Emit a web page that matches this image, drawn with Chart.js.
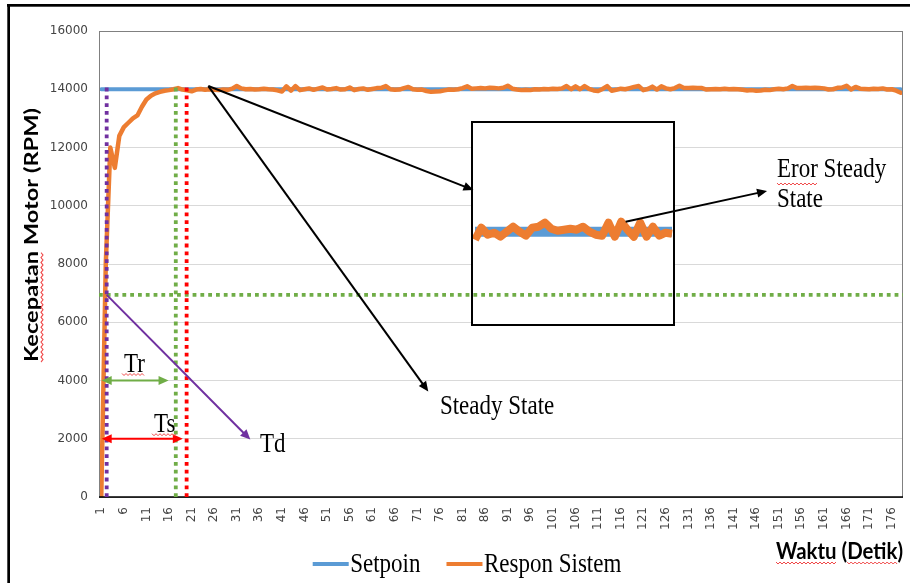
<!DOCTYPE html>
<html>
<head>
<meta charset="utf-8">
<script src="https://cdn.jsdelivr.net/npm/chart.js@4.4.1/dist/chart.umd.min.js"></script>
<style>
  html, body { margin: 0; padding: 0; background: #fff; }
  #wrap { position: relative; width: 910px; height: 583px; overflow: hidden; }
  #wrap > canvas { position: absolute; left: 0; top: 0; }
  #zoomBox { position: absolute; left: 471px; top: 121px; width: 200px; height: 201px; border: 2px solid #000; background: #fff; }
  #zoomBox canvas { position: absolute; left: 0; top: 0; }
  #overlay { pointer-events: none; }
</style>
</head>
<body>
<div id="wrap">
  <canvas id="motorChart" width="910" height="583"></canvas>
  <div id="zoomBox"><canvas id="zoomChart" width="200" height="201"></canvas></div>
  <canvas id="overlay" width="910" height="583"></canvas>
</div>
<script>
/* ===== DATA ===== */
const waktu = [
  1, 2, 3, 4, 5, 6, 7, 8, 9, 10, 11, 12, 13, 14, 15, 16, 17, 18, 19, 20,
  21, 22, 23, 24, 25, 26, 27, 28, 29, 30, 31, 32, 33, 34, 35, 36, 37, 38, 39, 40,
  41, 42, 43, 44, 45, 46, 47, 48, 49, 50, 51, 52, 53, 54, 55, 56, 57, 58, 59, 60,
  61, 62, 63, 64, 65, 66, 67, 68, 69, 70, 71, 72, 73, 74, 75, 76, 77, 78, 79, 80,
  81, 82, 83, 84, 85, 86, 87, 88, 89, 90, 91, 92, 93, 94, 95, 96, 97, 98, 99, 100,
  101, 102, 103, 104, 105, 106, 107, 108, 109, 110, 111, 112, 113, 114, 115, 116, 117, 118, 119, 120,
  121, 122, 123, 124, 125, 126, 127, 128, 129, 130, 131, 132, 133, 134, 135, 136, 137, 138, 139, 140,
  141, 142, 143, 144, 145, 146, 147, 148, 149, 150, 151, 152, 153, 154, 155, 156, 157, 158, 159, 160,
  161, 162, 163, 164, 165, 166, 167, 168, 169, 170, 171, 172, 173, 174, 175, 176, 177, 178
];

// setpoint: constant from the first to the last sample
const setpoinTitik = [[1, 14000], [178, 14000]];

const responSistem = [
  0, 8000, 12000, 11300, 12400, 12700, 12850, 13000, 13100, 13400,
  13650, 13780, 13860, 13910, 13950, 13970, 14000, 14040, 13990, 13960,
  13930, 13990, 14010, 13980, 14000, 13980, 13970, 13990, 13980, 14020,
  14110, 14030, 14000, 14010, 13990, 14000, 14020, 14000, 13990, 13960,
  13920, 14100, 13950, 14110, 13970, 14000, 14030, 13980, 14020, 14060,
  13990, 14010, 14040, 13990, 14000, 14060, 13970, 14010, 14030, 13980,
  14010, 14040, 14050, 14110, 14000, 13980, 13990, 14040, 14080, 14000,
  13980, 13990, 13940, 13910, 13920, 13930, 13960, 13990, 13980, 14000,
  14040, 14100, 14020, 14030, 14040, 14030, 14050, 14040, 14030, 14050,
  14120, 14020, 13990, 13970, 13980, 13970, 14000, 13990, 14010, 14000,
  14020, 14010, 14030, 14110, 14000, 14100, 14000, 14110, 14010, 13960,
  13940, 14010, 14110, 13950, 13980, 14020, 14000, 14040, 14080, 14110,
  13970, 14010, 14090, 13990, 14100, 14030, 14000, 14040, 14120, 14040,
  14040, 14050, 14040, 14040, 13990, 14000, 14010, 14000, 14020, 14000,
  14010, 14000, 13980, 13960, 13970, 13950, 13960, 13980, 13970, 14000,
  14020, 14000, 14030, 14110, 14040, 14040, 14050, 14040, 14050, 14040,
  14030, 13990, 14000, 14050, 14060, 14120, 13990, 14080, 14020, 14010,
  14000, 14020, 14010, 14030, 13990, 14000, 13950, 13880
];

// magnified steady-state piece shown in the box
const zoomRespon = [
  13920, 14040, 13970, 13990, 13950, 14000, 14050, 14000, 13960, 14040,
  14050, 14090, 14030, 14010, 14020, 14030, 14020, 14050, 14000, 13970,
  13960, 14090, 13950, 14100, 14020, 13950, 14090, 13950, 14050, 13960,
  13990, 13980
];

const yTicks = { min: 0, max: 16000, step: 2000 };

/* ===== ANNOTATIONS (waktu, rpm) ===== */
const garisTd = 2.2, garisTr = 17.5, garisTs = 19.9, garisAtas = 14100;
const setengahSetpoin = 6940;
const asalSteady = [24.7, 14110];
const ujungKotak = [83.4, 10540];
const ujungSteady = [73.4, 3620];
const panahEror = [[117.1, 9450], [148.4, 10510]];
const panahTd = [[2.2, 6940], [34.0, 1970]];
const panahTr = [[1.1, 4000], [15.9, 4000]];
const panahTs = [[1.1, 2000], [19.06, 2000]];
const teksAnotasi = [
  { t: "Tr", w: 6.04, v: 4309, ul: true },
  { t: "Ts", w: 12.68, v: 2242, ul: true },
  { t: "Td", w: 36.15, v: 1545 },
  { t: "Steady State", w: 75.98, v: 2850 },
  { t: "Eror Steady", w: 150.6, v: 10987, ulWord: "Eror" },
  { t: "State", w: 150.6, v: 9957 }
];

const BIRU = "#5B9BD5", ORANYE = "#ED7D31";
const SERIF = "23px 'Liberation Serif'";
const TARIK = 1.2; // picture is stretched vertically

/* ===== MAIN CHART ===== */
const chart = new Chart(document.getElementById("motorChart"), {
  type: "line",
  data: {
    labels: waktu,
    datasets: [
      {
        label: "Setpoin",
        data: setpoinTitik.map(p => ({ x: p[0], y: p[1] })),
        borderColor: BIRU,
        borderWidth: 4,
        borderCapStyle: "round",
        order: 1
      },
      {
        label: "Respon Sistem",
        data: responSistem,
        borderColor: ORANYE,
        borderWidth: 4.5,
        borderJoinStyle: "round",
        borderCapStyle: "round",
        order: 0
      }
    ]
  },
  options: {
    responsive: false,
    animation: false,
    devicePixelRatio: 1,
    layout: { padding: { top: 31, right: 7, left: 0, bottom: 0 } },
    elements: { point: { radius: 0 }, line: { tension: 0 } },
    plugins: { legend: { display: false }, tooltip: { enabled: false } },
    scales: {
      x: {
        offset: true,
        grid: { display: false, drawTicks: false },
        border: { display: false },
        ticks: {
          autoSkip: false, minRotation: 90, maxRotation: 90, padding: 10,
          color: "#444", font: { family: "DejaVu Sans", size: 12 },
          callback: function (v, i) { return i % 5 === 0 ? this.getLabelForValue(v) : ""; }
        },
        afterFit: s => { s.height = 86; s.paddingLeft = 0; s.paddingRight = 0; }
      },
      y: {
        min: yTicks.min, max: yTicks.max,
        grid: { color: "#d9d9d9", drawTicks: false },
        border: { display: false },
        ticks: {
          stepSize: yTicks.step, padding: 11, color: "#444",
          font: { family: "DejaVu Sans", size: 12 },
          callback: v => String(v)
        },
        afterFit: s => { s.width = 99; s.paddingTop = 0; s.paddingBottom = 0; }
      }
    }
  }
});

/* ===== ZOOM BOX ===== */
new Chart(document.getElementById("zoomChart"), {
  type: "line",
  data: {
    labels: zoomRespon.map((_, i) => i),
    datasets: [
      { data: [{ x: 0, y: 14000 }, { x: zoomRespon.length - 1, y: 14000 }], borderColor: BIRU, borderWidth: 10, order: 1 },
      { data: zoomRespon, borderColor: ORANYE, borderWidth: 8, borderJoinStyle: "round", order: 0 }
    ]
  },
  options: {
    responsive: false, animation: false, devicePixelRatio: 1,
    layout: { padding: { left: 2, right: 1 } },
    elements: { point: { radius: 0 }, line: { tension: 0 } },
    plugins: { legend: { display: false }, tooltip: { enabled: false } },
    scales: { x: { display: false }, y: { display: false, min: 13077, max: 15087 } }
  }
});

/* ===== OVERLAY ===== */
const ov = document.getElementById("overlay").getContext("2d");
const xs = chart.scales.x, ys = chart.scales.y, area = chart.chartArea;
const px = w => xs.getPixelForValue(w - 1);
const py = v => ys.getPixelForValue(v);

function titik(p) { return [px(p[0]), py(p[1])]; }

function teks(str, x, y, font, sx, sy) {
  ov.save();
  ov.translate(x, y);
  ov.scale(sx, sy);
  ov.font = font;
  ov.fillStyle = "#000";
  ov.textBaseline = "alphabetic";
  ov.fillText(str, 0, 0);
  ov.restore();
}

function gelombang(ctx, x1, x2, y) {
  ctx.save();
  ctx.strokeStyle = "#f04848";
  ctx.lineWidth = 1;
  ctx.beginPath();
  let naik = true;
  for (let x = x1; x <= x2; x += 2) {
    const yy = y + (naik ? -1 : 1);
    if (x === x1) ctx.moveTo(x, yy); else ctx.lineTo(x, yy);
    naik = !naik;
  }
  ctx.stroke();
  ctx.restore();
}

function titikTitik(x1, y1, x2, y2, warna) {
  ov.save();
  ov.strokeStyle = warna;
  ov.lineWidth = 3.8;
  ov.setLineDash([3.8, 4]);
  ov.beginPath();
  ov.moveTo(x1, y1);
  ov.lineTo(x2, y2);
  ov.stroke();
  ov.restore();
}

function kepala(x, y, a, L, W) {
  ov.beginPath();
  ov.moveTo(x, y);
  ov.lineTo(x - L * Math.cos(a) + W * Math.sin(a), y - L * Math.sin(a) - W * Math.cos(a));
  ov.lineTo(x - L * Math.cos(a) - W * Math.sin(a), y - L * Math.sin(a) + W * Math.cos(a));
  ov.closePath();
  ov.fill();
}

function panah(a, b, warna, tebal, dua) {
  const [x1, y1] = titik(a), [x2, y2] = titik(b);
  const sudut = Math.atan2(y2 - y1, x2 - x1), L = 10, W = 4.5;
  const c = Math.cos(sudut), s = Math.sin(sudut);
  ov.save();
  ov.strokeStyle = warna;
  ov.fillStyle = warna;
  ov.lineWidth = tebal;
  ov.beginPath();
  ov.moveTo(dua ? x1 + c * L * 0.8 : x1, dua ? y1 + s * L * 0.8 : y1);
  ov.lineTo(x2 - c * L * 0.8, y2 - s * L * 0.8);
  ov.stroke();
  kepala(x2, y2, sudut, L, W);
  if (dua) kepala(x1, y1, sudut + Math.PI, L, W);
  ov.restore();
}

// outer frame of the pasted picture
ov.fillStyle = "#000";
ov.fillRect(7, 4, 903, 2.7);
ov.fillRect(7.3, 4, 2.7, 579);

// plot area outline + axis line
ov.strokeStyle = "#808080";
ov.lineWidth = 1;
ov.strokeRect(area.left + 0.5, area.top + 0.5, area.right - area.left - 1, area.bottom - area.top);
ov.strokeStyle = "#000";
ov.lineWidth = 1.5;
ov.beginPath();
ov.moveTo(area.left, area.bottom);
ov.lineTo(area.right, area.bottom);
ov.stroke();

// helper lines
titikTitik(area.left, py(setengahSetpoin), area.right, py(setengahSetpoin), "#70AD47");
titikTitik(px(garisTd), area.bottom, px(garisTd), py(garisAtas), "#7030A0");
titikTitik(px(garisTr), area.bottom, px(garisTr), py(garisAtas), "#70AD47");
titikTitik(px(garisTs), area.bottom, px(garisTs), py(garisAtas), "#FF0000");

// arrows
panah(asalSteady, ujungKotak, "#000", 2, false);
panah(asalSteady, ujungSteady, "#000", 2, false);
panah(panahEror[0], panahEror[1], "#000", 2, false);
panah(panahTd[0], panahTd[1], "#7030A0", 2, false);
panah(panahTr[0], panahTr[1], "#70AD47", 2, true);
panah(panahTs[0], panahTs[1], "#FF0000", 2, true);

// annotation texts
ov.font = SERIF;
teksAnotasi.forEach(a => {
  const x = px(a.w), y = py(a.v);
  teks(a.t, x, y, SERIF, 1, TARIK);
  ov.font = SERIF;
  if (a.ul) gelombang(ov, x - 2, x + ov.measureText(a.t).width + 1, y + 3);
  if (a.ulWord) gelombang(ov, x, x + ov.measureText(a.ulWord).width, y + 7);
});

// legend
ov.font = SERIF;
let lx = 312.7;
chart.data.datasets.forEach(ds => {
  ov.fillStyle = ds.borderColor;
  ov.fillRect(lx, 562, 36, 4);
  lx += 37.5;
  teks(ds.label, lx, 572, SERIF, 1, TARIK);
  ov.font = SERIF;
  lx += ov.measureText(ds.label).width + 26;
});

// axis titles
const JUDUL = "bold 19px Lato";
ov.font = JUDUL;
const judulY = "Kecepatan Motor (RPM)";
const lebarY = ov.measureText(judulY).width, sxY = 254 / lebarY;
ov.save();
ov.translate(32, 235);
ov.rotate(-Math.PI / 2);
ov.scale(sxY, 1);
ov.textAlign = "left";
ov.textBaseline = "middle";
ov.fillStyle = "#000";
ov.fillText(judulY, -lebarY / 2, 0);
gelombang(ov, -lebarY / 2, -lebarY / 2 + ov.measureText("Kecepatan").width, 10);
ov.restore();

const judulX = "Waktu (Detik)";
ov.font = JUDUL;
const sxX = 127 / ov.measureText(judulX).width;
teks(judulX, 776, 558.5, JUDUL, sxX, TARIK);
ov.font = JUDUL;
const wWaktu = ov.measureText("Waktu").width * sxX;
const wSpasi = ov.measureText("Waktu (").width * sxX;
gelombang(ov, 776, 776 + wWaktu, 563);
gelombang(ov, 776 + wSpasi, 776 + 127 - 4, 563);
</script>
</body>
</html>
